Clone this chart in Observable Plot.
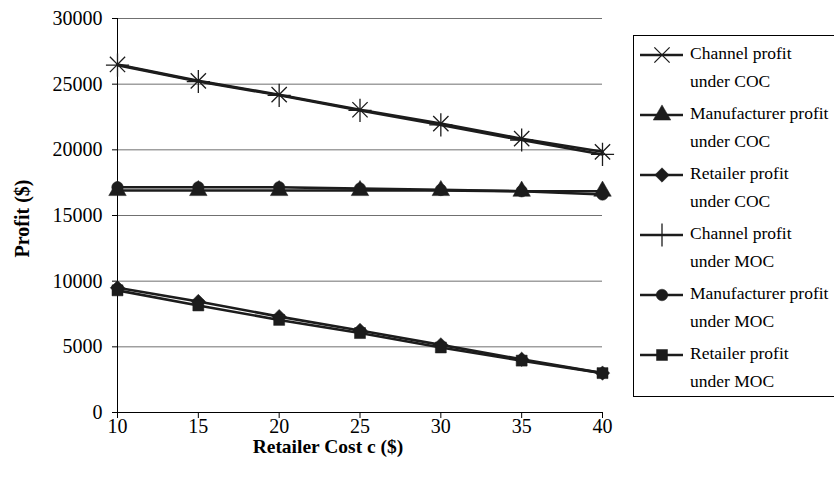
<!DOCTYPE html>
<html>
<head>
<meta charset="utf-8">
<script src="https://cdn.jsdelivr.net/npm/d3@7"></script>
<script src="https://cdn.jsdelivr.net/npm/@observablehq/plot@0.6"></script>
<style>
  html, body { margin: 0; padding: 0; background: #fff; }
  #wrap { position: relative; width: 834px; height: 480px; overflow: hidden; }
  #legend { position: absolute; left: 0; top: 0; pointer-events: none; }
</style>
</head>
<body>
<div id="wrap"></div>
<script>
// ---- data ----
const costs = [10, 15, 20, 25, 30, 35, 40];
const xTicks = [10, 15, 20, 25, 30, 35, 40];
const yTicks = [0, 5000, 10000, 15000, 20000, 25000, 30000];

const seriesNames = [
  "Channel profit under COC",
  "Manufacturer profit under COC",
  "Retailer profit under COC",
  "Channel profit under MOC",
  "Manufacturer profit under MOC",
  "Retailer profit under MOC"
];
const legendLines = [
  ["Channel profit", "under COC"],
  ["Manufacturer profit", "under COC"],
  ["Retailer profit", "under COC"],
  ["Channel profit", "under MOC"],
  ["Manufacturer profit", "under MOC"],
  ["Retailer profit", "under MOC"]
];
const channelCOC = [26500, 25250, 24200, 23050, 22000, 20850, 19850];
const manufCOC   = [16900, 16900, 16900, 16900, 16900, 16850, 16850];
const retailCOC  = [9500, 8450, 7300, 6250, 5150, 4050, 3000];
const channelMOC = [26450, 25200, 24150, 23000, 21900, 20750, 19650];
const manufMOC   = [17150, 17150, 17150, 17050, 16950, 16850, 16600];
const retailMOC  = [9300, 8150, 7050, 6050, 4950, 3950, 3000];

const seriesValues = [channelCOC, manufCOC, retailCOC, channelMOC, manufMOC, retailMOC];
const symbols = ["times", "triangle", "diamond2", "plus", "circle", "square"];
const filled  = [false, true, true, false, true, true];
const radii   = [7, 6.5, 6.5, 7.5, 5.8, 6.2];

const INK = "#1c1c1c";
const FONT = "'Liberation Serif', 'Times New Roman', serif";

const rows = seriesNames.flatMap((s, k) =>
  costs.map((c, i) => ({series: s, k, x: c, y: seriesValues[k][i]})));

const marks = [
  Plot.gridY(yTicks, {stroke: "#707070", strokeOpacity: 1, strokeWidth: 1}),
  Plot.ruleX([10], {stroke: "#000", strokeWidth: 1}),
  Plot.ruleY([0], {stroke: "#000", strokeWidth: 1}),
  Plot.axisY({ticks: yTicks, tickFormat: d3.format("d"), tickSize: 5, tickPadding: 10, label: null, fontSize: 20}),
  Plot.axisX({ticks: xTicks, tickSize: 6, tickPadding: 0, label: null, fontSize: 20})
];
seriesNames.forEach((s, k) => {
  const data = rows.filter(r => r.k === k);
  marks.push(Plot.line(data, {x: "x", y: "y", stroke: INK, strokeWidth: 2.6}));
  marks.push(Plot.dot(data, {
    x: "x", y: "y", symbol: () => symbols[k], r: radii[k],
    fill: filled[k] ? INK : "none",
    stroke: INK,
    strokeWidth: filled[k] ? 0.5 : 1.3
  }));
});
marks.push(Plot.text(["Retailer Cost c ($)"], {frameAnchor: "bottom", textAnchor: "middle", lineAnchor: "middle", dx: -32, dy: 34, fontWeight: "bold", fontSize: 19.5}));
marks.push(Plot.text(["Profit ($)"], {frameAnchor: "left", textAnchor: "middle", lineAnchor: "middle", dx: -95, dy: 3, rotate: -90, fontWeight: "bold", fontSize: 20}));

const chart = Plot.plot({
  width: 834,
  height: 480,
  marginLeft: 117,
  marginRight: 232,
  marginTop: 18,
  marginBottom: 68,
  x: {domain: [10, 40]},
  y: {domain: [0, 30000]},
  style: {fontFamily: FONT, fontSize: "20px", color: "#000", background: "#fff"},
  marks
});
document.getElementById("wrap").appendChild(chart);

// ---- legend ----
const lg = d3.select("#wrap").append("svg")
  .attr("id", "legend").attr("width", 834).attr("height", 480);
lg.append("rect").attr("x", 633.5).attr("y", 35.5).attr("width", 210).attr("height", 361)
  .attr("fill", "#fff").attr("stroke", "#000").attr("stroke-width", 1);
const symMap = {times: d3.symbolTimes, triangle: d3.symbolTriangle, diamond2: d3.symbolDiamond2,
  plus: d3.symbolPlus, circle: d3.symbolCircle, square: d3.symbolSquare};
legendLines.forEach((lines, k) => {
  const y0 = 55 + k * 60;
  lg.append("line").attr("x1", 640).attr("x2", 683).attr("y1", y0).attr("y2", y0)
    .attr("stroke", INK).attr("stroke-width", 2.6);
  lg.append("path")
    .attr("transform", `translate(662,${y0})`)
    .attr("d", d3.symbol(symMap[symbols[k]], Math.PI * radii[k] * radii[k])())
    .attr("fill", filled[k] ? INK : "none")
    .attr("stroke", INK)
    .attr("stroke-width", filled[k] ? 0.5 : 1.3);
  lines.forEach((t, j) => {
    lg.append("text").attr("x", 690).attr("y", y0 + j * 28)
      .attr("dominant-baseline", "middle")
      .attr("font-family", FONT)
      .attr("font-size", 17.5).attr("fill", "#000").text(t);
  });
});
</script>
</body>
</html>
